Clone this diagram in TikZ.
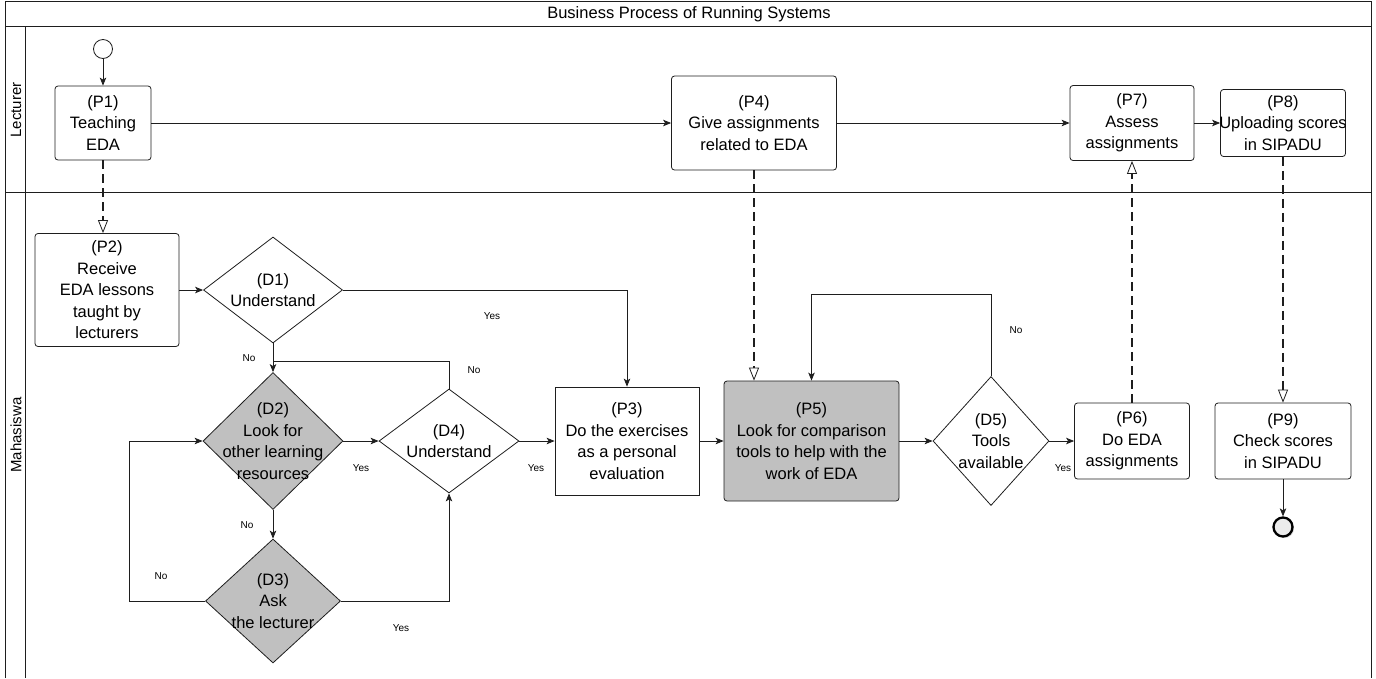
\documentclass[tikz,border=0pt]{standalone}
\usepackage{fontspec}
\setmainfont{Liberation Sans}
\usetikzlibrary{positioning, arrows.meta, shapes.geometric, shadows}
\definecolor{relleno}{HTML}{C0C0C0}
\definecolor{trazo}{HTML}{1E1E1E}

\begin{document}
\begin{tikzpicture}[x=1pt, y=-1pt, font=\fontsize{16.5}{21.5}\selectfont,
	linea/.style={draw=trazo, line width=0.8pt},
	flujo/.style={linea, -{Stealth[length=8pt, width=6.5pt, inset=2pt]}},
	mensaje/.style={draw=trazo, line width=2.1pt, dash pattern=on 9pt off 5pt,
		-{Triangle[open, length=13pt, width=10pt, line width=0.8pt]}},
	proceso/.style={linea, rounded corners=3pt, align=center, inner sep=0pt, fill=white},
	decision/.style={linea, diamond, inner sep=0pt, fill=white},
	dtexto/.style={align=center, inner sep=0pt},
	rotulo/.style={font=\fontsize{10}{12}\selectfont, inner sep=0pt},
	carril/.style={rotate=90, font=\fontsize{15}{18}\selectfont, inner sep=0pt}]
	\useasboundingbox (0,0) rectangle (1376,678);

	\draw[linea] (5,678) -- (5,1) -- (1371,1) -- (1371,678);
	\draw[linea] (5,26) -- (1371,26);
	\draw[linea] (5,192) -- (1371,192);
	\draw[linea] (25,26) -- (25,678);
	\node[inner sep=0pt] (titulo) at (689,14) {Business Process of Running Systems};
	\node[carril] (lecturer) at (16,110) {Lecturer};
	\node[carril] (mahasiswa) at (16,435) {Mahasiswa};

	\node[linea, circle, minimum size=19pt, inner sep=0pt] (inicio) at (103,49) {};
	\node[proceso, minimum width=96pt, minimum height=74pt] (p1) at (103,123) {(P1)\\Teaching\\EDA};
	\node[proceso, minimum width=165pt, minimum height=94pt] (p4) at (754,123) {(P4)\\Give assignments\\related to EDA};
	\node[proceso, minimum width=124pt, minimum height=75pt] (p7) at (1132,123) {(P7)\\Assess\\assignments};
	\node[proceso, minimum width=125pt, minimum height=67pt, inner xsep=-1.5pt] (p8) at (1283,123) {(P8)\\Uploading scores\\in SIPADU};

	\node[proceso, minimum width=144pt, minimum height=113pt] (p2) at (107,290) {(P2)\\Receive\\EDA lessons\\taught by\\lecturers};
	\node[decision, minimum width=139pt, minimum height=106pt,
		label={[dtexto]center:{(D1)\\Understand}}] (d1) at (273,290) {};
	\node[decision, fill=relleno, minimum width=140pt, minimum height=137pt,
		label={[dtexto]center:{(D2)\\Look for\\other learning\\resources}}] (d2) at (273,441) {};
	\node[decision, fill=relleno, minimum width=135pt, minimum height=124pt,
		label={[dtexto]center:{(D3)\\Ask\\the lecturer}}] (d3) at (273,601) {};
	\node[decision, minimum width=140pt, minimum height=104pt,
		label={[dtexto]center:{(D4)\\Understand}}] (d4) at (449,441) {};
	\node[proceso, rounded corners=0pt, minimum width=144pt, minimum height=108pt] (p3) at (627,441) {(P3)\\Do the exercises\\as a personal\\evaluation};
	\node[proceso, fill=relleno, minimum width=175pt, minimum height=120pt] (p5) at (811.5,441) {(P5)\\Look for comparison\\tools to help with the\\work of EDA};
	\node[decision, minimum width=116pt, minimum height=129pt,
		label={[dtexto]center:{(D5)\\Tools\\available}}] (d5) at (991,441) {};
	\node[proceso, minimum width=115pt, minimum height=76pt] (p6) at (1132,441) {(P6)\\Do EDA\\assignments};
	\node[proceso, minimum width=136pt, minimum height=76pt] (p9) at (1283,441) {(P9)\\Check scores\\in SIPADU};
	\node[circle, draw=black, line width=2.3pt, fill=gray!15, minimum size=19pt, inner sep=0pt,
		drop shadow={opacity=0.35, shadow xshift=1.5pt, shadow yshift=-1.5pt}] (fin) at (1283,527) {};

	\coordinate (union) at (273,361);
	\coordinate (lazo) at (129,601);
	\coordinate (techo) at (991,294);

	\draw[flujo] (inicio) -- (p1);
	\draw[flujo] (p1) -- (p4);
	\draw[flujo] (p4) -- (p7);
	\draw[flujo] (p7) -- (p8);
	\draw[mensaje] (p1.south) -- (p1.south |- p2.north);
	\draw[flujo] (p2) -- (d1);
	\draw[flujo] (d1.east) -| (p3.north);
	\draw[flujo] (d1) -- (d2);
	\draw[linea] (d4.north) |- (union);
	\draw[flujo] (d2) -- (d4);
	\draw[flujo] (d2) -- (d3);
	\draw[flujo] (d3.west) -- (lazo) |- (d2.west);
	\draw[flujo] (d3.east) -| (d4.south);
	\draw[flujo] (d4) -- (p3);
	\draw[flujo] (p3) -- (p5);
	\draw[mensaje] (p4.south) -- (p4.south |- p5.north);
	\draw[flujo] (p5) -- (d5);
	\draw[flujo] (d5.north) -- (techo) -| (p5.north);
	\draw[flujo] (d5) -- (p6);
	\draw[mensaje] (p6) -- (p7);
	\draw[mensaje] (p8) -- (p9);
	\draw[flujo] (p9) -- (fin);

	\node[rotulo] (si1) at (492,316) {Yes};
	\node[rotulo] (no1) at (249,358) {No};
	\node[rotulo] (no2) at (474,370) {No};
	\node[rotulo] (si2) at (361,468) {Yes};
	\node[rotulo] (si3) at (536,468) {Yes};
	\node[rotulo] (no3) at (247,525) {No};
	\node[rotulo] (no4) at (161,576) {No};
	\node[rotulo] (si4) at (401,628) {Yes};
	\node[rotulo] (no5) at (1016,330) {No};
	\node[rotulo] (si5) at (1063,468) {Yes};
\end{tikzpicture}
\end{document}
